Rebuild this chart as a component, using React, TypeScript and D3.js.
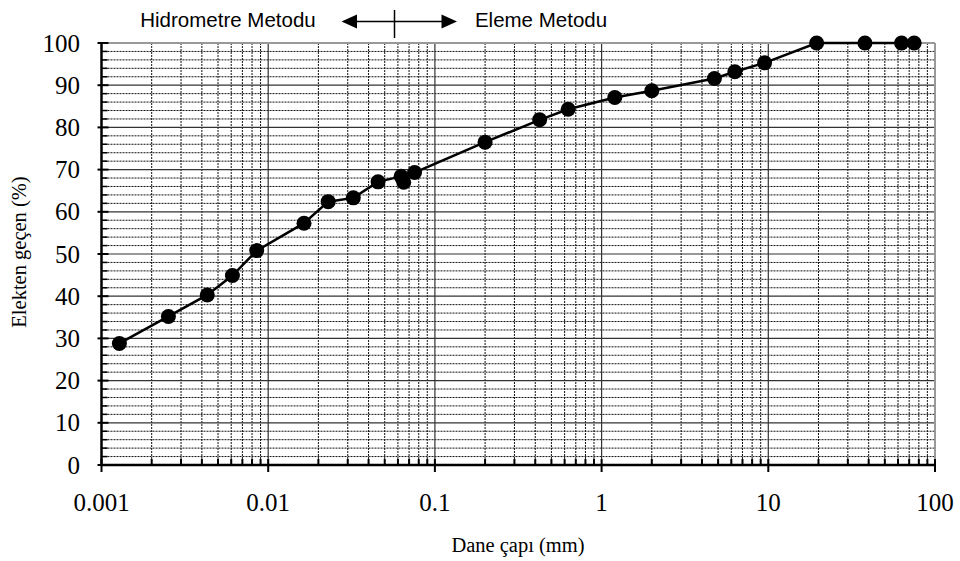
import React from "react";
import * as d3 from "d3";

const diameters = [0.00128, 0.00252, 0.00431, 0.0061, 0.00853, 0.0164, 0.0229, 0.0324, 0.0456, 0.0627, 0.065, 0.0755, 0.2, 0.425, 0.63, 1.2, 2.0, 4.75, 6.3, 9.5, 19.5, 38, 63, 75];
const passing = [28.8, 35.2, 40.3, 44.9, 50.8, 57.3, 62.4, 63.3, 67.1, 68.4, 67.0, 69.3, 76.5, 81.8, 84.3, 87.1, 88.7, 91.6, 93.2, 95.3, 100, 100, 100, 100];
const xTicks = [0.001, 0.01, 0.1, 1, 10, 100];
const yTicks = [0, 10, 20, 30, 40, 50, 60, 70, 80, 90, 100];

const W = 960, H = 561;
const L = 101.5, R = 935, T = 43, B = 465;

export default function App() {
  const x = d3.scaleLog().domain([0.001, 100]).range([L, R]);
  const y = d3.scaleLinear().domain([0, 100]).range([B, T]);
  const minorX: number[] = [];
  for (let e = -3; e < 2; e++) for (let m = 2; m <= 9; m++) minorX.push(m * Math.pow(10, e));
  const minorY = d3.range(0, 101, 2).filter((v) => v % 10 !== 0);
  const line = d3.line<number>().x((_, i) => x(diameters[i])).y((v) => y(v));
  const serif = "'Liberation Serif', 'Times New Roman', serif";
  const sans = "'Liberation Sans', Arial, sans-serif";
  return (
    <svg width={W} height={H} style={{ position: "absolute", left: 0, top: 0, background: "#fff" }}>
      {/* grid */}
      {minorY.map((v) => (
        <line key={"hy" + v} x1={L} x2={R} y1={y(v)} y2={y(v)} stroke="#111" strokeWidth={1} strokeDasharray="2,1" />
      ))}
      {minorX.map((v) => (
        <line key={"vx" + v} x1={x(v)} x2={x(v)} y1={T} y2={B} stroke="#111" strokeWidth={1} strokeDasharray="2,1" />
      ))}
      {yTicks.slice(1, -1).map((v) => (
        <line key={"My" + v} x1={L} x2={R} y1={y(v)} y2={y(v)} stroke="#333" strokeWidth={1.2} />
      ))}
      {xTicks.slice(1, -1).map((v) => (
        <line key={"Mx" + v} x1={x(v)} x2={x(v)} y1={T} y2={B} stroke="#333" strokeWidth={1.2} />
      ))}
      {/* border top/right */}
      <line x1={L} x2={R} y1={T} y2={T} stroke="#999" strokeWidth={2} />
      <line x1={R} x2={R} y1={T} y2={B} stroke="#999" strokeWidth={2} />
      {/* axes */}
      <line x1={L} x2={R + 1} y1={B} y2={B} stroke="#000" strokeWidth={2.5} />
      <line x1={L} x2={L} y1={T - 1} y2={B} stroke="#000" strokeWidth={2.5} />
      {minorX.map((v) => (
        <line key={"tx" + v} x1={x(v)} x2={x(v)} y1={B} y2={B - 6} stroke="#000" strokeWidth={2} />
      ))}
      {xTicks.map((v) => (
        <line key={"TX" + v} x1={x(v)} x2={x(v)} y1={B - 6} y2={B + 7} stroke="#000" strokeWidth={2} />
      ))}
      {minorY.map((v) => (
        <line key={"ty" + v} x1={L} x2={L + 6} y1={y(v)} y2={y(v)} stroke="#000" strokeWidth={1.5} />
      ))}
      {yTicks.map((v) => (
        <line key={"TY" + v} x1={L - 4} x2={L + 7} y1={y(v)} y2={y(v)} stroke="#000" strokeWidth={2} />
      ))}
      {/* tick labels */}
      {xTicks.map((v) => (
        <text key={"lx" + v} x={x(v)} y={511} textAnchor="middle" fontFamily={serif} fontSize={25} fill="#000">
          {String(v)}
        </text>
      ))}
      {yTicks.map((v) => (
        <text key={"ly" + v} x={80} y={y(v) + 8.5} textAnchor="end" fontFamily={serif} fontSize={25} fill="#000">
          {v}
        </text>
      ))}
      <text x={518} y={552} textAnchor="middle" fontFamily={serif} fontSize={20.5} fill="#000">Dane çapı (mm)</text>
      <text transform={`translate(26,252) rotate(-90)`} textAnchor="middle" fontFamily={serif} fontSize={20.5} fill="#000">
        Elekten geçen (%)
      </text>
      {/* data */}
      <path d={line(passing) || ""} fill="none" stroke="#000" strokeWidth={2.5} />
      {passing.map((v, i) => (
        <circle key={"p" + i} cx={x(diameters[i])} cy={y(v)} r={7.5} fill="#000" />
      ))}
      {/* top annotation */}
      <text x={228} y={27} textAnchor="middle" fontFamily={sans} fontSize={20.5} fill="#000">Hidrometre Metodu</text>
      <text x={541} y={27} textAnchor="middle" fontFamily={sans} fontSize={20.5} fill="#000">Eleme Metodu</text>
      <line x1={350} x2={445} y1={21.5} y2={21.5} stroke="#000" strokeWidth={1.5} />
      <line x1={394.5} x2={394.5} y1={10} y2={38} stroke="#000" strokeWidth={1.5} />
      <path d="M341.5,21.5 L357,14.5 L357,28.5 Z" fill="#000" />
      <path d="M457,21.5 L441.5,14.5 L441.5,28.5 Z" fill="#000" />
    </svg>
  );
}
